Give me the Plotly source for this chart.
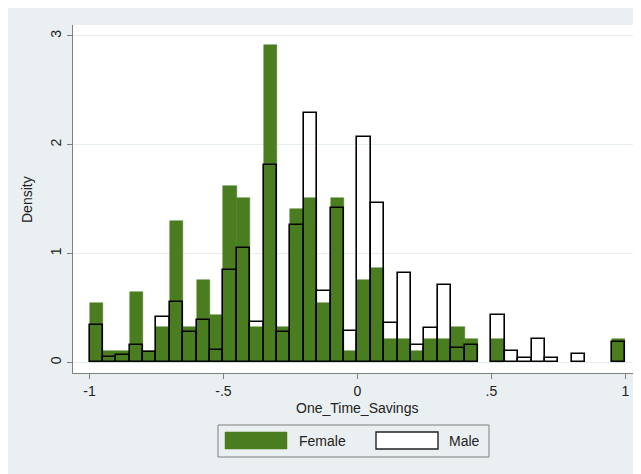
import plotly.graph_objects as go

# Bin left edges from -1 to 0.95, width 0.05
bin_width = 0.05
bin_starts = [round(-1 + bin_width * i, 2) for i in range(40)]

female_density = [0.541, 0.108, 0.108, 0.649, 0.108, 0.324, 1.297, 0.324, 0.757, 0.432,
                  1.622, 1.514, 0.324, 2.919, 0.324, 1.405, 1.514, 0.541, 1.514, 0.108,
                  0.757, 0.865, 0.216, 0.216, 0.108, 0.216, 0.216, 0.324, 0.216, None,
                  0.216, None, None, None, None, None, None, None, None, 0.216]

male_density = [0.345, 0.046, 0.071, 0.160, 0.098, 0.415, 0.554, 0.277, 0.390, 0.114,
                0.852, 1.055, 0.370, 1.815, 0.277, 1.260, 2.290, 0.660, 1.420, 0.290,
                2.070, 1.468, 0.363, 0.820, 0.160, 0.317, 0.708, 0.130, 0.160, None,
                0.437, 0.100, 0.040, 0.215, 0.040, None, 0.077, None, None, 0.190]

x_tickvals = [-1, -0.5, 0, 0.5, 1]
x_ticktext = ["-1", "-.5", "0", ".5", "1"]
y_tickvals = [0, 1, 2, 3]
y_ticktext = ["0", "1", "2", "3"]

GREEN = "#4a7d1f"
BG = "#eaeff1"
FONT = "Liberation Sans, Arial, sans-serif"

centers = [s + bin_width / 2 for s in bin_starts]

fig = go.Figure()
fig.add_trace(go.Bar(
    x=centers, y=female_density, width=bin_width, name="Female",
    marker=dict(color=GREEN, line=dict(color=GREEN, width=0.5)),
    showlegend=False,
))
fig.add_trace(go.Bar(
    x=centers, y=male_density, width=bin_width, name="Male",
    marker=dict(color="rgba(0,0,0,0)", line=dict(color="black", width=1.6)),
    showlegend=False,
))

OFF = 8  # page body margin
W, H = 629, 466
L, R, T, B = 65, 1, 17, 101
pw, ph = W - L - R, H - T - B

def px(x):
    return (x - OFF - L) / pw

def py(y):
    return (H - B - (y - OFF)) / ph

shapes = [
    dict(type="rect", xref="paper", yref="paper", x0=px(218), x1=px(489), y0=py(457), y1=py(425),
         fillcolor=BG, line=dict(color="#7f7f7f", width=1)),
    dict(type="rect", xref="paper", yref="paper", x0=px(225), x1=px(287), y0=py(449), y1=py(432),
         fillcolor=GREEN, line=dict(color=GREEN, width=0.5)),
    dict(type="rect", xref="paper", yref="paper", x0=px(376), x1=px(438), y0=py(449), y1=py(432),
         fillcolor="white", line=dict(color="#222222", width=1.4)),
]

annotations = [
    dict(text="Female", xref="paper", yref="paper", x=px(297), y=py(441), xanchor="left", yanchor="middle",
         showarrow=False, font=dict(family=FONT, size=14, color="#222222")),
    dict(text="Male", xref="paper", yref="paper", x=px(447), y=py(441), xanchor="left", yanchor="middle",
         showarrow=False, font=dict(family=FONT, size=14, color="#222222")),
    dict(text="One_Time_Savings", xref="paper", yref="paper", x=px(357), y=py(408), xanchor="center",
         yanchor="middle", showarrow=False, font=dict(family=FONT, size=14, color="#222222")),
    dict(text="Density", xref="paper", yref="paper", x=px(27), y=py(200), xanchor="center",
         yanchor="middle", textangle=-90, showarrow=False, font=dict(family=FONT, size=14, color="#222222")),
]

fig.update_layout(
    width=W, height=H,
    margin=dict(l=L, r=R, t=T, b=B),
    paper_bgcolor=BG, plot_bgcolor="white",
    barmode="overlay", bargap=0,
    font=dict(family=FONT, size=14, color="#222222"),
    shapes=shapes, annotations=annotations,
    showlegend=False,
)
fig.update_xaxes(
    range=[-1.0616, 1.040], tickvals=x_tickvals, ticktext=x_ticktext,
    showgrid=False, zeroline=False, showline=True, linecolor="#808080", linewidth=1,
    ticks="outside", ticklen=5, tickcolor="#808080", tickfont=dict(size=14),
)
fig.update_yaxes(
    range=[-0.098, 3.10], tickvals=y_tickvals, ticktext=y_ticktext, tickangle=-90,
    showgrid=True, gridcolor="#e6eef0", gridwidth=1, zeroline=False,
    showline=True, linecolor="#808080", linewidth=1,
    ticks="outside", ticklen=5, tickcolor="#808080", tickfont=dict(size=14),
)

fig.write_html("out.html")
